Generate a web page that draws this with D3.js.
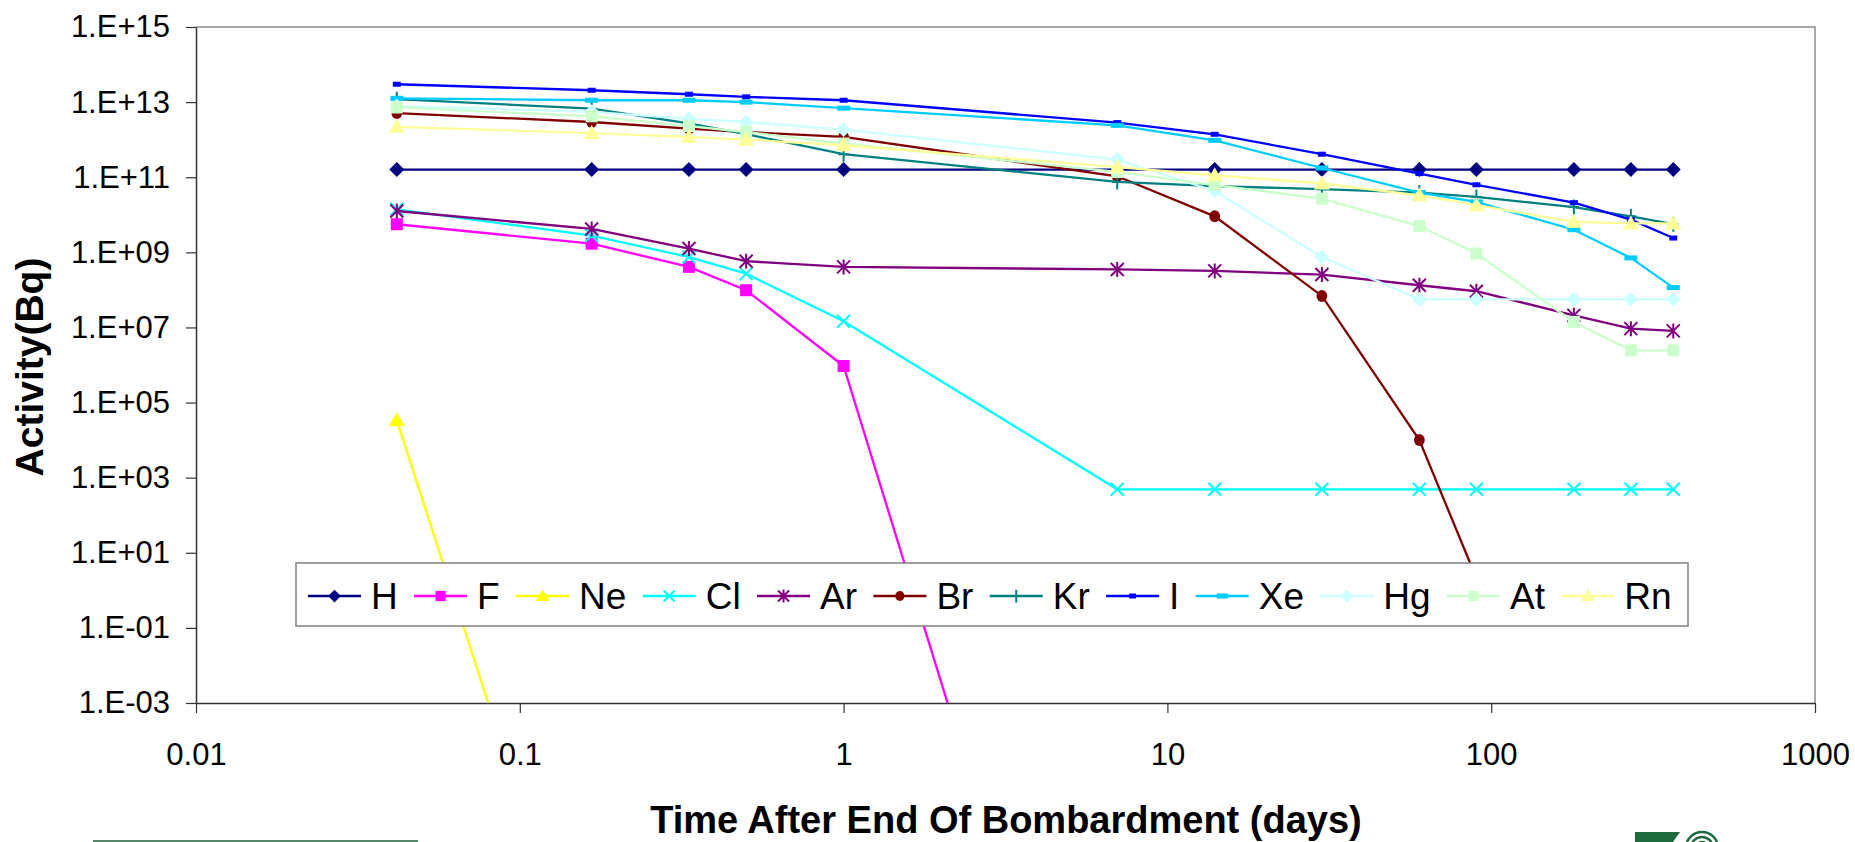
<!DOCTYPE html>
<html>
<head>
<meta charset="utf-8">
<script src="https://cdn.jsdelivr.net/npm/d3@7/dist/d3.min.js"></script>
<style>
  body { margin: 0; background: #fff; }
  text { font-family: "Liberation Sans", Arial, sans-serif; }
</style>
</head>
<body>
<script>
// time points (days after end of bombardment)
let days = [0.0417, 0.1667, 0.333, 0.5, 1, 7, 14, 30, 60, 90, 180, 270, 365];

// activity (Bq) per element
let H  = [1.6e11, 1.6e11, 1.6e11, 1.6e11, 1.6e11, 1.6e11, 1.6e11, 1.6e11, 1.6e11, 1.6e11, 1.6e11, 1.6e11, 1.6e11];
let F  = [5.6e9, 1.7e9, 4.1e8, 9.8e7, 9.4e5, 2.3e-18];
let Ne = [3.4e4, 3e-12];
let Cl = [1.4e10, 2.8e9, 7.5e8, 2.7e8, 1.46e7, 490, 490, 490, 490, 490, 490, 490, 490];
let Ar = [1.26e10, 4.2e9, 1.26e9, 5.8e8, 4.1e8, 3.5e8, 3.2e8, 2.56e8, 1.33e8, 9.2e7, 2.1e7, 9.3e6, 8.1e6];
let Br = [5.1e12, 2.95e12, 1.97e12, 1.6e12, 1.18e12, 1.06e11, 9.1e9, 6.9e7, 1.0e4, 2.1];
let Kr = [1.2e13, 6.7e12, 2.7e12, 1.4e12, 4.1e11, 7.5e10, 5.8e10, 4.8e10, 3.9e10, 2.98e10, 1.6e10, 9.1e9, 5.6e9];
let I  = [2.99e13, 2.07e13, 1.62e13, 1.38e13, 1.12e13, 2.85e12, 1.39e12, 4.1e11, 1.25e11, 6.3e10, 2.1e10, 7.4e9, 2.4e9];
let Xe = [1.26e13, 1.12e13, 1.12e13, 1.0e13, 6.9e12, 2.4e12, 9.6e11, 1.76e11, 3.9e10, 2.2e10, 4.0e9, 7.1e8, 1.15e8];
let Hg = [7.8e12, 5.5e12, 3.6e12, 2.95e12, 1.86e12, 2.95e11, 4.3e10, 7.5e8, 5.6e7, 5.6e7, 5.6e7, 5.6e7, 5.6e7];
let At = [7.2e12, 4.2e12, 2.3e12, 1.6e12, 7.9e11, 1.38e11, 6.2e10, 2.7e10, 5.0e9, 9.3e8, 1.4e7, 2.45e6, 2.45e6];
let Rn = [2.2e12, 1.5e12, 1.18e12, 1.0e12, 7.1e11, 1.86e11, 1.13e11, 6.8e10, 3.3e10, 1.8e10, 6.5e9, 5.9e9, 5.9e9];

let seriesNames = ['H', 'F', 'Ne', 'Cl', 'Ar', 'Br', 'Kr', 'I', 'Xe', 'Hg', 'At', 'Rn'];
let seriesValues = [H, F, Ne, Cl, Ar, Br, Kr, I, Xe, Hg, At, Rn];

// tick labels
let xTicks = [0.01, 0.1, 1, 10, 100, 1000];
let xTickLabels = ['0.01', '0.1', '1', '10', '100', '1000'];
let yTicks = [1e15, 1e13, 1e11, 1e9, 1e7, 1e5, 1e3, 1e1, 1e-1, 1e-3];
let yTickLabels = ['1.E+15', '1.E+13', '1.E+11', '1.E+09', '1.E+07', '1.E+05', '1.E+03', '1.E+01', '1.E-01', '1.E-03'];

// excel style per series: colour + marker
let styles = {
    H:  { color: '#000080', marker: 'diamond', size: 7.5 },
    F:  { color: '#FF00FF', marker: 'square', size: 6 },
    Ne: { color: '#FFFF00', marker: 'triangle', size: 8 },
    Cl: { color: '#00FFFF', marker: 'x', size: 6.5 },
    Ar: { color: '#800080', marker: 'star', size: 6.5 },
    Br: { color: '#800000', marker: 'circle', size: 6 },
    Kr: { color: '#008080', marker: 'plus', size: 7.5 },
    I:  { color: '#0000FF', marker: 'dash', size: 4 },
    Xe: { color: '#00CCFF', marker: 'dash', size: 6.5 },
    Hg: { color: '#CCFFFF', marker: 'diamond', size: 7.5 },
    At: { color: '#CCFFCC', marker: 'square', size: 6 },
    Rn: { color: '#FFFF99', marker: 'triangle', size: 8 }
};

let width = 1855, height = 842;
let plot = { left: 196, right: 1815, top: 27, bottom: 703 };

let svg = d3.select('body').append('svg')
    .attr('width', width)
    .attr('height', height);

let xScale = d3.scaleLog()
    .domain([0.01, 1000])
    .range([plot.left, plot.right]);

let yScale = d3.scaleLog()
    .domain([1e-3, 1e15])
    .range([plot.bottom, plot.top]);

svg.append('clipPath').attr('id', 'plotclip')
    .append('rect')
    .attr('x', plot.left).attr('y', plot.top)
    .attr('width', plot.right - plot.left)
    .attr('height', plot.bottom - plot.top);

// top and right frame (grey)
svg.append('path')
    .attr('d', `M${plot.left},${plot.top}H${plot.right}V${plot.bottom}`)
    .attr('fill', 'none')
    .attr('stroke', '#8c8c8c')
    .attr('stroke-width', 1.5);

// y axis
let yAxis = svg.append('g')
    .attr('transform', `translate(${plot.left},0)`)
    .call(d3.axisLeft(yScale)
        .tickValues(yTicks)
        .tickFormat((d, i) => yTickLabels[i])
        .tickSize(10)
        .tickSizeOuter(0)
        .tickPadding(16));

// x axis
let xAxis = svg.append('g')
    .attr('transform', `translate(0,${plot.bottom})`)
    .call(d3.axisBottom(xScale)
        .tickValues(xTicks)
        .tickFormat((d, i) => xTickLabels[i])
        .tickSize(10)
        .tickSizeOuter(0));

[yAxis, xAxis].forEach(function (g) {
    g.select('.domain').attr('stroke', '#333').attr('stroke-width', 1.5);
    g.selectAll('.tick line').attr('stroke', '#333').attr('stroke-width', 1.2);
    g.selectAll('.tick text')
        .attr('fill', '#000')
        .style('font-size', '31px');
});
xAxis.selectAll('.tick text').attr('y', 40);

// axis titles
svg.append('text')
    .attr('x', 1006)
    .attr('y', 833)
    .attr('text-anchor', 'middle')
    .style('font-size', '38px')
    .style('font-weight', 'bold')
    .text('Time After End Of Bombardment (days)');

svg.append('text')
    .attr('transform', 'translate(43,367) rotate(-90)')
    .attr('text-anchor', 'middle')
    .style('font-size', '39px')
    .style('font-weight', 'bold')
    .text('Activity(Bq)');

// marker drawing helper
function drawMarker(g, st, cx, cy) {
    let s = st.size, c = st.color;
    if (st.marker === 'diamond') {
        g.append('path').attr('d', `M${cx},${cy - s}L${cx + s},${cy}L${cx},${cy + s}L${cx - s},${cy}Z`).attr('fill', c);
    } else if (st.marker === 'square') {
        g.append('rect').attr('x', cx - s).attr('y', cy - s).attr('width', 2 * s).attr('height', 2 * s).attr('fill', c);
    } else if (st.marker === 'triangle') {
        g.append('path').attr('d', `M${cx},${cy - s}L${cx + s},${cy + s * 0.75}L${cx - s},${cy + s * 0.75}Z`).attr('fill', c);
    } else if (st.marker === 'circle') {
        g.append('ellipse').attr('cx', cx).attr('cy', cy).attr('rx', s * 0.9).attr('ry', s).attr('fill', c);
    } else if (st.marker === 'x') {
        g.append('path').attr('d', `M${cx - s},${cy - s}L${cx + s},${cy + s}M${cx - s},${cy + s}L${cx + s},${cy - s}`)
            .attr('stroke', c).attr('stroke-width', 2);
    } else if (st.marker === 'star') {
        g.append('path').attr('d', `M${cx - s},${cy - s}L${cx + s},${cy + s}M${cx - s},${cy + s}L${cx + s},${cy - s}M${cx},${cy - s - 1}V${cy + s + 1}`)
            .attr('stroke', c).attr('stroke-width', 2);
    } else if (st.marker === 'plus') {
        g.append('path').attr('d', `M${cx},${cy - s}V${cy + s}M${cx - s * 0.7},${cy}H${cx + s * 0.7}`)
            .attr('stroke', c).attr('stroke-width', 2);
    } else if (st.marker === 'dash') {
        g.append('rect').attr('x', cx - s).attr('y', cy - 2.5).attr('width', 2 * s).attr('height', 5).attr('fill', c);
    }
}

let line = d3.line()
    .x(d => xScale(d.x))
    .y(d => yScale(d.y));

let plotArea = svg.append('g').attr('clip-path', 'url(#plotclip)');

seriesNames.forEach(function (name, k) {
    let st = styles[name];
    let pts = seriesValues[k].map((v, i) => ({ x: days[i], y: v }));
    let g = plotArea.append('g').attr('class', 'series-' + name);
    g.append('path')
        .datum(pts)
        .attr('fill', 'none')
        .attr('stroke', st.color)
        .attr('stroke-width', 2.3)
        .attr('d', line);
    pts.forEach(function (p) {
        drawMarker(g, st, xScale(p.x), yScale(p.y));
    });
});

// legend
let legend = { x: 296, y: 563, w: 1392, h: 63 };
let lg = svg.append('g');
lg.append('rect')
    .attr('x', legend.x).attr('y', legend.y)
    .attr('width', legend.w).attr('height', legend.h)
    .attr('fill', '#fff')
    .attr('stroke', '#808080')
    .attr('stroke-width', 1.5);

let sampleLen = 53, textGap = 10;
let labels = seriesNames.map(function (name) {
    return lg.append('text')
        .attr('y', 609)
        .style('font-size', '37px')
        .attr('fill', '#000')
        .text(name);
});
let textWidths = labels.map(t => t.node().getComputedTextLength());
let used = d3.sum(textWidths) + seriesNames.length * (sampleLen + textGap);
let spacing = (legend.w - 12 - used) / seriesNames.length;
let cursor = legend.x + 12;
seriesNames.forEach(function (name, k) {
    let st = styles[name];
    let cy = 596;
    lg.append('line')
        .attr('x1', cursor).attr('x2', cursor + sampleLen)
        .attr('y1', cy).attr('y2', cy)
        .attr('stroke', st.color)
        .attr('stroke-width', 2.3);
    let ms = Object.assign({}, st, { size: st.size * 0.85 });
    drawMarker(lg, ms, cursor + sampleLen / 2, cy);
    labels[k].attr('x', cursor + sampleLen + textGap);
    cursor += sampleLen + textGap + textWidths[k] + spacing;
});

// footer decorations
svg.append('line')
    .attr('x1', 93).attr('x2', 418)
    .attr('y1', 841).attr('y2', 841)
    .attr('stroke', '#1f5c3a')
    .attr('stroke-width', 1.5);

let logo = svg.append('g');
logo.append('path')
    .attr('d', 'M1635,832H1680L1673,842H1635Z')
    .attr('fill', '#1e6b40');
[16, 11, 6].forEach(function (r) {
    logo.append('circle')
        .attr('cx', 1702).attr('cy', 848).attr('r', r)
        .attr('fill', 'none')
        .attr('stroke', '#1e6b40')
        .attr('stroke-width', 2.5);
});
</script>
</body>
</html>
